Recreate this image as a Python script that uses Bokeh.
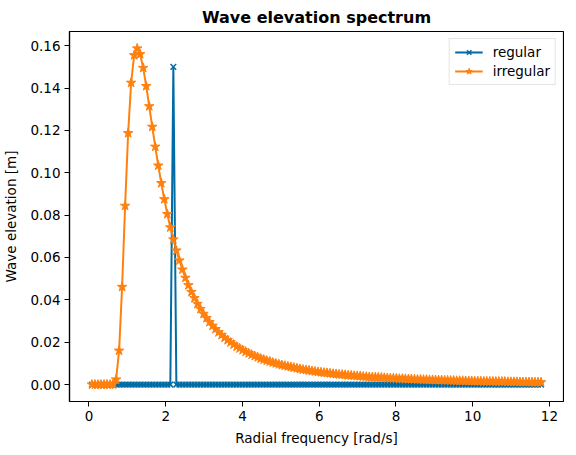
import numpy as np
from bokeh.plotting import figure
from bokeh.models import Range1d, FixedTicker, Legend, LegendItem, NumeralTickFormatter
from bokeh.embed import file_html
from bokeh.resources import INLINE

# frequency grid: 150 bins of df = 0.0125 Hz, expressed in rad/s
f1 = 0.0125
nfreq = 150
omega = 2 * np.pi * f1 * np.arange(1, nfreq + 1)

# regular wave: single component of 0.15 m at the 28th bin (~2.2 rad/s)
regular = [0.0] * nfreq
regular[27] = 0.15

# irregular wave amplitudes (150 bins)
irregular = [
    0.0, 0.0, 0.0, 0.0, 0.0, 0.0, 0.0, 0.0001, 0.0024, 0.0160,
    0.0461, 0.0844, 0.1187, 0.1425, 0.1555, 0.1587, 0.1560, 0.1495, 0.1409, 0.1314,
    0.1217, 0.1123, 0.1034, 0.0951, 0.0875, 0.0805, 0.0742, 0.0685, 0.0633, 0.0586,
    0.0543, 0.0504, 0.0469, 0.0437, 0.0408, 0.0381, 0.0357, 0.0334, 0.0314, 0.0295,
    0.0278, 0.0262, 0.0247, 0.0234, 0.0221, 0.0210, 0.0199, 0.0189, 0.0179, 0.0171,
    0.0163, 0.0155, 0.0148, 0.0141, 0.0135, 0.0129, 0.0123, 0.0118, 0.0113, 0.0109,
    0.0104, 0.0100, 0.0096, 0.0092, 0.0089, 0.0086, 0.0083, 0.0080, 0.0077, 0.0074,
    0.0071, 0.0069, 0.0067, 0.0064, 0.0062, 0.0060, 0.0058, 0.0056, 0.0055, 0.0053,
    0.0051, 0.0050, 0.0048, 0.0047, 0.0046, 0.0044, 0.0043, 0.0042, 0.0041, 0.0040,
    0.0038, 0.0037, 0.0036, 0.0035, 0.0035, 0.0034, 0.0033, 0.0032, 0.0031, 0.0030,
    0.0030, 0.0029, 0.0028, 0.0028, 0.0027, 0.0026, 0.0026, 0.0025, 0.0024, 0.0024,
    0.0023, 0.0023, 0.0022, 0.0022, 0.0021, 0.0021, 0.0021, 0.0020, 0.0020, 0.0019,
    0.0019, 0.0018, 0.0018, 0.0018, 0.0017, 0.0017, 0.0017, 0.0016, 0.0016, 0.0016,
    0.0015, 0.0015, 0.0015, 0.0015, 0.0014, 0.0014, 0.0014, 0.0014, 0.0013, 0.0013,
    0.0013, 0.0013, 0.0012, 0.0012, 0.0012, 0.0012, 0.0012, 0.0011, 0.0011, 0.0011,
]

x_ticks = [0, 2, 4, 6, 8, 10, 12]
y_ticks = [0.00, 0.02, 0.04, 0.06, 0.08, 0.10, 0.12, 0.14, 0.16]

title = "Wave elevation spectrum"
x_label = "Radial frequency [rad/s]"
y_label = "Wave elevation [m]"
series_names = ["regular", "irregular"]
colors = ["#006BA4", "#FF800E"]

FONT = "DejaVu Sans"

p = figure(
    frame_width=494, frame_height=370,
    output_backend="svg", toolbar_location=None,
    x_range=Range1d(-0.507, 12.366), y_range=Range1d(-0.0080, 0.1667),
    min_border_left=65, min_border_right=1, min_border_top=24, min_border_bottom=45,
)
p.title.text = title
p.title.text_font = FONT
p.title.text_font_size = "16px"
p.title.text_font_style = "bold"
p.title.align = "center"
p.title.text_color = "black"

p.grid.visible = False
p.outline_line_color = "black"
p.outline_line_width = 1.2

for ax in (p.xaxis[0], p.yaxis[0]):
    ax.axis_line_color = "black"
    ax.axis_line_width = 1.2
    ax.major_tick_in = 0
    ax.major_tick_out = 5
    ax.major_tick_line_color = "black"
    ax.minor_tick_line_color = None
    ax.major_label_text_font = FONT
    ax.major_label_text_font_size = "13.5px"
    ax.major_label_text_color = "black"
    ax.axis_label_text_font = FONT
    ax.axis_label_text_font_size = "13.5px"
    ax.axis_label_text_font_style = "normal"
    ax.axis_label_text_color = "black"

p.xaxis[0].ticker = FixedTicker(ticks=x_ticks)
p.yaxis[0].ticker = FixedTicker(ticks=y_ticks)
p.yaxis[0].formatter = NumeralTickFormatter(format="0.00")
p.xaxis[0].axis_label = x_label
p.yaxis[0].axis_label = y_label
p.xaxis[0].major_label_standoff = 4
p.yaxis[0].major_label_standoff = 4
p.xaxis[0].axis_label_standoff = 6
p.yaxis[0].axis_label_standoff = 8

l1 = p.line(omega, regular, line_color=colors[0], line_width=2)
s1 = p.scatter(omega, regular, marker="x", size=8, line_color=colors[0], line_width=1.5)
l2 = p.line(omega, irregular, line_color=colors[1], line_width=2)
s2 = p.scatter(omega, irregular, marker="star", size=10, line_color=colors[1],
               fill_color=colors[1], line_width=1)

legend = Legend(items=[
    LegendItem(label=series_names[0], renderers=[l1, s1]),
    LegendItem(label=series_names[1], renderers=[l2, s2]),
], location="top_right")
legend.label_text_font = FONT
legend.label_text_font_size = "13.5px"
legend.label_text_color = "black"
legend.border_line_color = "#cccccc"
legend.border_line_width = 1
legend.background_fill_alpha = 0.8
legend.glyph_width = 28
legend.glyph_height = 16
legend.label_height = 16
legend.label_standoff = 10
legend.spacing = 3
legend.padding = 5
legend.margin = 7
p.add_layout(legend)

open("out.html", "w").write(file_html(p, INLINE))
